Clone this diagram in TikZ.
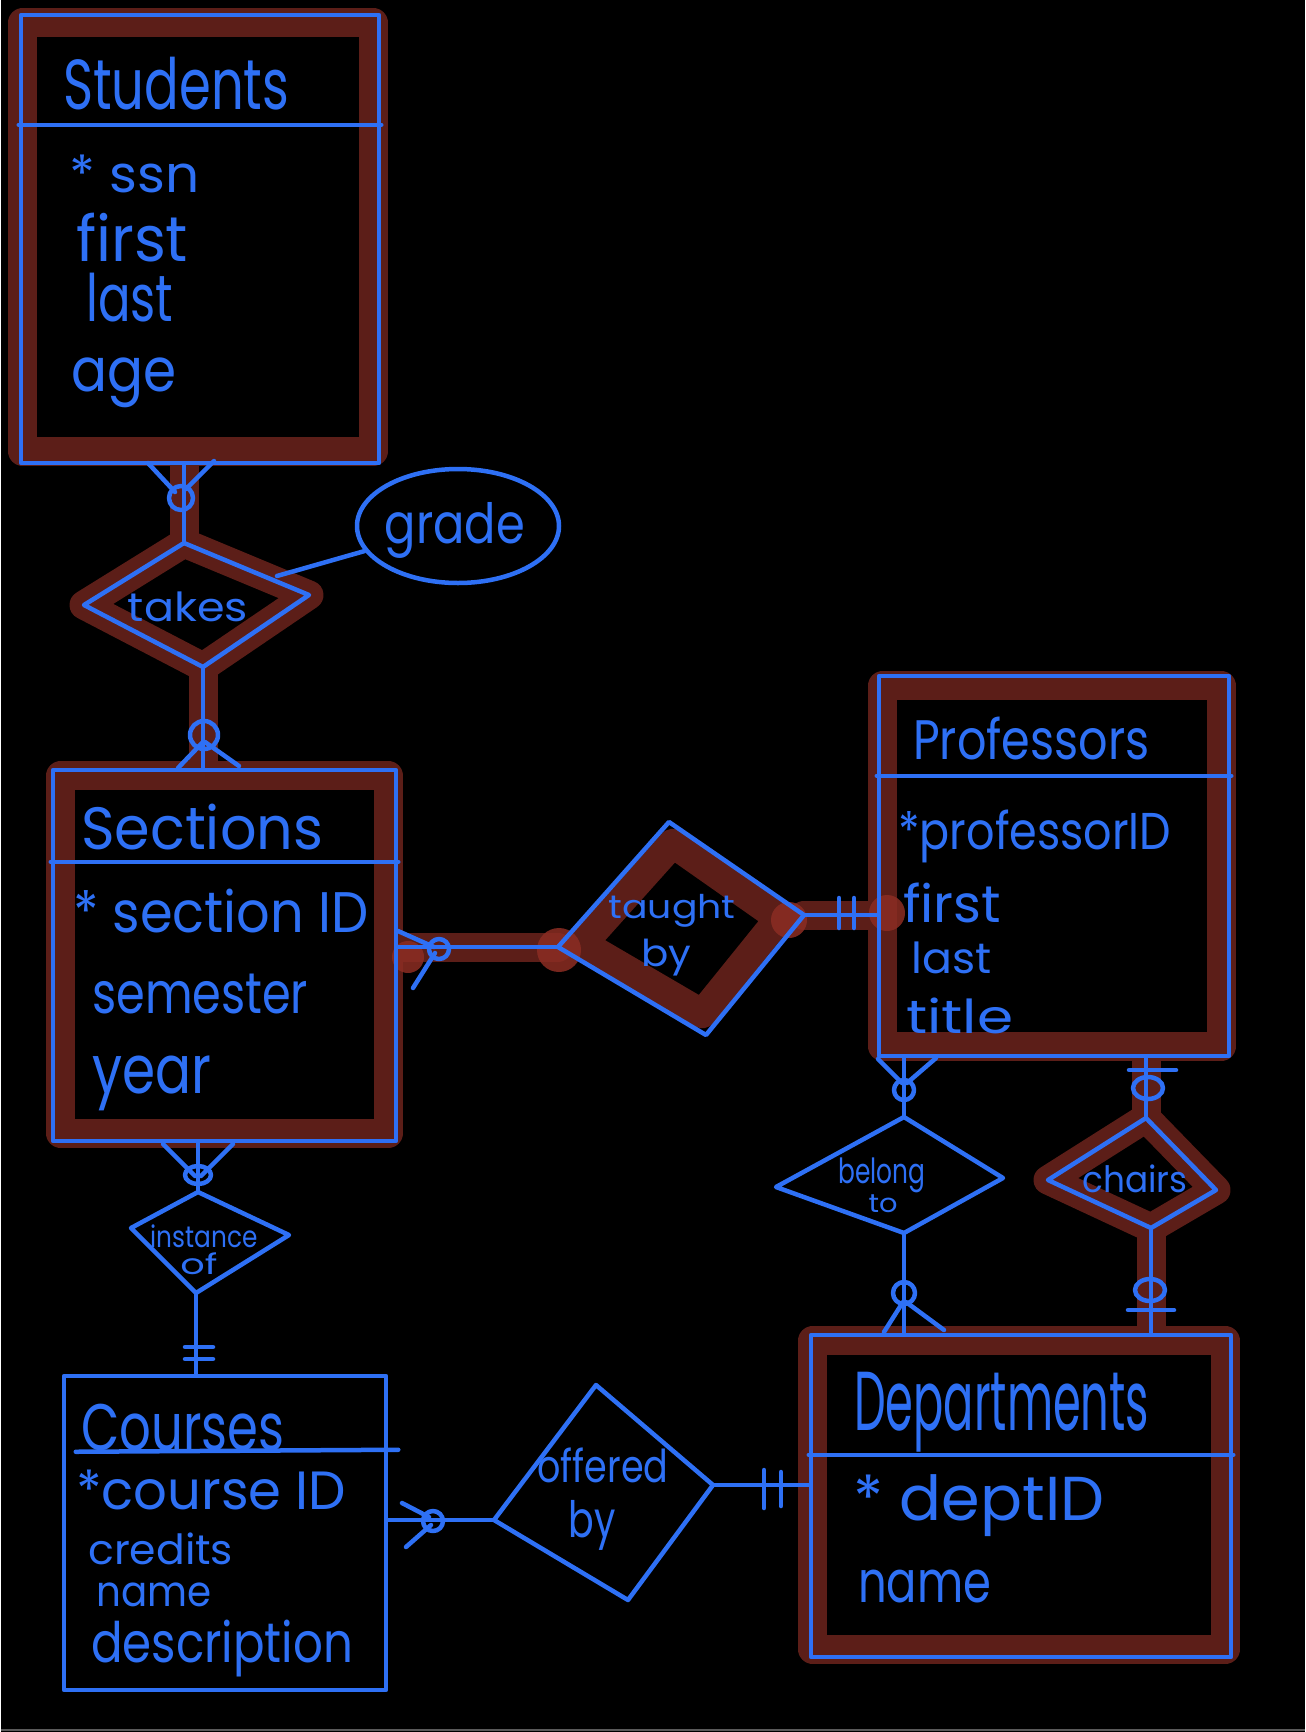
\documentclass[tikz,border=0pt]{standalone}
\usepackage{fontspec}
\setmainfont{Poppins}
\usetikzlibrary{calc,shapes.geometric}
\definecolor{ink}{RGB}{46,112,245}
\definecolor{hl}{RGB}{92,30,24}
\definecolor{hlb}{RGB}{140,45,35}
\definecolor{edgegray}{RGB}{90,90,90}
\pgfdeclarelayer{bg}
\pgfdeclarelayer{paper}
\pgfsetlayers{paper,bg,main}
\newcommand{\tw}[3]{\resizebox*{#1pt}{#2pt}{#3}}
\tikzset{
  inkl/.style={draw=ink, line width=4.5pt, line cap=round, line join=round},
  ent/.style={inkl, rectangle, inner sep=0pt},
  hlline/.style={draw=hl, line width=29pt, line cap=round, line join=round},
  blob/.style={fill=hlb, opacity=0.85},
  lbl/.style={text=ink, inner sep=0pt, anchor=west},
  rlbl/.style={text=ink, inner sep=0pt},
}
\begin{document}
\begin{tikzpicture}[x=1pt,y=-1pt]
\begin{pgfonlayer}{paper}
\fill[black] (0,0) rectangle (1304,1732);
\draw[edgegray, line width=2pt] (0,1730) -- (1304,1730);
\end{pgfonlayer}
\useasboundingbox (0,0) rectangle (1304,1732);

% ---------- entities ----------
\node[ent, minimum width=358pt, minimum height=448pt] (students) at (199,239) {};
\node[ent, minimum width=343pt, minimum height=371pt] (sections) at (223.5,955.5) {};
\node[ent, minimum width=350pt, minimum height=380pt] (professors) at (1053,866) {};
\node[ent, minimum width=420pt, minimum height=322pt] (departments) at (1020,1496) {};
\node[ent, minimum width=322pt, minimum height=314pt] (courses) at (224,1533) {};

% header lines
\draw[inkl] ($(students.north west)+(0,112)$) -- ($(students.north east)+(0,112)$);
\draw[inkl] ($(sections.north west)+(0,94)$) -- ($(sections.north east)+(0,94)$);
\draw[inkl] ($(professors.north west)+(0,102)$) -- ($(professors.north east)+(0,102)$);
\draw[inkl] ($(departments.north west)+(0,122)$) -- ($(departments.north east)+(0,122)$);
\draw[inkl] ($(courses.north west)+(14,78)$) -- ($(courses.north east)+(10,76)$);

% ---------- entity texts ----------
\node[lbl] (stT) at (62,84) {\tw{226}{53}{Students}};
\node[lbl] (st1) at (68,174) {\tw{130}{38}{* ssn}};
\node[lbl] (st2) at (75,238) {\tw{112}{49}{first}};
\node[lbl] (st3) at (85,298) {\tw{87}{49}{last}};
\node[lbl] (st4) at (70,383) {\tw{105}{50}{age}};

\node[lbl] (seT) at (80,827) {\tw{242}{46}{Sections}};
\node[lbl] (se1) at (72,911) {\tw{295}{44}{* section ID}};
\node[lbl] (se2) at (91,994) {\tw{216}{40}{semester}};
\node[lbl] (se3) at (91,1083) {\tw{119}{55}{year}};

\node[lbl] (prT) at (912,738) {\tw{236}{43}{Professors}};
\node[lbl] (pr1) at (897,836) {\tw{273}{53}{*professorID}};
\node[lbl] (pr2) at (902,903) {\tw{98}{40}{first}};
\node[lbl] (pr3) at (910,958) {\tw{80}{32}{last}};
\node[lbl] (pr4) at (905,1016) {\tw{107}{36}{title}};

\node[lbl] (deT) at (853,1412) {\tw{295}{80}{Departments}};
\node[lbl] (de1) at (852,1506) {\tw{251}{62}{* deptID}};
\node[lbl] (de2) at (857,1586) {\tw{133}{33}{name}};

\node[lbl] (coT) at (80,1428) {\tw{203}{47}{Courses}};
\node[lbl] (co1) at (75,1490) {\tw{270}{40}{*course ID}};
\node[lbl] (co2) at (87,1549) {\tw{145}{32}{credits}};
\node[lbl] (co3) at (95,1595) {\tw{115}{24}{name}};
\node[lbl] (co4) at (90,1648) {\tw{262}{57}{description}};

% ---------- relationship diamonds ----------
\coordinate (tkL) at (83,605); \coordinate (tkT) at (183,543);
\coordinate (tkR) at (308,595); \coordinate (tkB) at (202,667);
\coordinate (tkE) at (276,576);
\coordinate (tbL) at (557,947); \coordinate (tbT) at (668,822);
\coordinate (tbR) at (803,915); \coordinate (tbB) at (705,1035);
\coordinate (blL) at (775,1187); \coordinate (blT) at (903,1117);
\coordinate (blR) at (1002,1178); \coordinate (blB) at (903,1233);
\coordinate (chL) at (1047,1180); \coordinate (chT) at (1145,1118);
\coordinate (chR) at (1215,1190); \coordinate (chB) at (1150,1228);
\coordinate (inL) at (130,1228); \coordinate (inT) at (197,1192);
\coordinate (inR) at (288,1235); \coordinate (inB) at (195,1293);
\coordinate (ofL) at (493,1520); \coordinate (ofT) at (595,1385);
\coordinate (ofR) at (712,1485); \coordinate (ofB) at (627,1600);

% ---------- highlights ----------
\begin{pgfonlayer}{bg}
\draw[hlline] ($(students.north west)+(4,10)$) rectangle ($(students.south east)+(-8,-14)$);
\draw[hlline] ($(sections.north west)+(10,8)$) rectangle ($(sections.south east)+(-10,-10)$);
\draw[hlline] ($(professors.north west)+(6,12)$) rectangle ($(professors.south east)+(-10,-12)$);
\draw[hlline] ($(departments.north west)+(4,8)$) rectangle ($(departments.south east)+(-8,-10)$);
\draw[hlline] (tkT) -- (tkR) -- (tkB) -- (tkL) -- cycle;
\draw[hlline] (tkT) -- (tkT |- students.south);
\draw[hlline] (tkB) -- (tkB |- sections.north);
\draw[hlline] ($(tbL)!0.1!(tbR)$) -- ($(tbT)!0.1!(tbB)$) -- ($(tbR)!0.1!(tbL)$) -- ($(tbB)!0.1!(tbT)$) -- cycle;
\draw[hlline] (sections.east |- tbL) -- (tbL);
\draw[hlline] (tbR) -- (tbR -| professors.west);
\draw[hlline] (chT) -- (chR) -- (chB) -- (chL) -- cycle;
\draw[hlline] (chT) -- (chT |- professors.south);
\draw[hlline] (chB) -- (chB |- departments.north);
\fill[blob] (558,950) circle (22pt);
\fill[blob] (788,920) circle (18pt);
\fill[blob] (886,913) circle (18pt);
\fill[blob] (407,957) circle (16pt);
\end{pgfonlayer}

\draw[inkl] (tkT) -- (tkR) -- (tkB) -- (tkL) -- cycle;
\draw[inkl] (tbT) -- (tbR) -- (tbB) -- (tbL) -- cycle;
\draw[inkl] (blT) -- (blR) -- (blB) -- (blL) -- cycle;
\draw[inkl] (chT) -- (chR) -- (chB) -- (chL) -- cycle;
\draw[inkl] (inT) -- (inR) -- (inB) -- (inL) -- cycle;
\draw[inkl] (ofT) -- (ofR) -- (ofB) -- (ofL) -- cycle;

\node[rlbl] (tk) at (187,607) {\tw{120}{30}{takes}};
\node[rlbl] (tb1) at (671,911) {\tw{127}{33}{taught}};
\node[rlbl] (tb2) at (665,958) {\tw{50}{37}{by}};
\node[rlbl] (bl1) at (881,1175) {\tw{87}{35}{belong}};
\node[rlbl] (bl2) at (882,1204) {\tw{29}{18}{to}};
\node[rlbl] (ch) at (1134,1179) {\tw{105}{28}{chairs}};
\node[rlbl] (in1) at (203,1236) {\tw{107}{23}{instance}};
\node[rlbl] (in2) at (198,1264) {\tw{37}{22}{of}};
\node[rlbl] (of1) at (602,1465) {\tw{131}{35}{offered}};
\node[rlbl] (of2) at (591,1525) {\tw{47}{50}{by}};

% attribute ellipse
\node[inkl, ellipse, minimum width=202pt, minimum height=114pt, inner sep=0pt] (grade) at (457,526) {};
\node[rlbl] (gradeT) at (454,530) {\tw{140}{56}{grade}};
\draw[inkl] (grade.195) -- (tkE);

% ---------- connectors ----------
% Students -- takes (zero or many)
\draw[inkl] (students.south -| tkT) -- (tkT);
\draw[inkl] (147,463) -- (174,492);
\draw[inkl] (213,461) -- (185,489);
\draw[inkl] (180,498) circle (12pt);
% takes -- Sections (zero or many)
\draw[inkl] (tkB) -- (tkB |- sections.north);
\draw[inkl] (203,735) circle (14pt);
\draw[inkl] (177,768) -- (202,742);
\draw[inkl] (238,766) -- (204,742);
% Sections -- taught by (zero or many)
\draw[inkl] (sections.east |- tbL) -- (tbL);
\draw[inkl] (438,949) circle (10pt);
\draw[inkl] (397,931) -- (433,947);
\draw[inkl] (412,988) -- (434,953);
% taught by -- Professors (one and only one)
\draw[inkl] (tbR) -- (tbR -| professors.west);
\draw[inkl] (838,898) -- (838,928);
\draw[inkl] (853,898) -- (853,928);
% Professors -- belong to (zero or many)
\draw[inkl] (blT |- professors.south) -- (blT);
\draw[inkl] (877,1059) -- (901,1083);
\draw[inkl] (935,1058) -- (906,1083);
\draw[inkl] (903,1090) circle (10pt);
% belong to -- Departments (zero or many)
\draw[inkl] (blB) -- (blB |- departments.north);
\draw[inkl] (903,1293) circle (11pt);
\draw[inkl] (883,1332) -- (902,1302);
\draw[inkl] (943,1330) -- (905,1302);
% Professors -- chairs (zero or one)
\draw[inkl] (chT |- professors.south) -- (chT);
\draw[inkl] (1128,1070) -- (1175,1070);
\draw[inkl] (1147,1088) ellipse (15pt and 11pt);
% chairs -- Departments (zero or one)
\draw[inkl] (chB) -- (chB |- departments.north);
\draw[inkl] (1149,1290) ellipse (15pt and 11pt);
\draw[inkl] (1127,1310) -- (1173,1310);
% Sections -- instance of (zero or many)
\draw[inkl] (inT |- sections.south) -- (inT);
\draw[inkl] (162,1144) -- (194,1176);
\draw[inkl] (232,1144) -- (200,1176);
\draw[inkl] (197,1175) ellipse (13pt and 9pt);
% instance of -- Courses (one and only one)
\draw[inkl] (inB) -- (inB |- courses.north);
\draw[inkl] (184,1347) -- (212,1347);
\draw[inkl] (184,1359) -- (212,1359);
% Courses -- offered by (zero or many)
\draw[inkl] (courses.east |- ofL) -- (ofL);
\draw[inkl] (432,1521) circle (10pt);
\draw[inkl] (401,1503) -- (428,1517);
\draw[inkl] (405,1547) -- (430,1525);
% offered by -- Departments (one and only one)
\draw[inkl] (ofR) -- (ofR -| departments.west);
\draw[inkl] (763,1470) -- (763,1508);
\draw[inkl] (780,1472) -- (780,1506);
\end{tikzpicture}
\end{document}
